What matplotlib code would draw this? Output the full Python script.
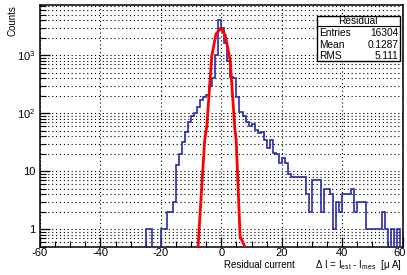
import numpy as np
import matplotlib.pyplot as plt
from matplotlib.patches import Rectangle
from matplotlib.ticker import (FixedLocator, FixedFormatter, LogLocator,
                               MultipleLocator, NullFormatter)

plt.rcParams['font.family'] = ['Liberation Sans', 'DejaVu Sans']
plt.rcParams['mathtext.fontset'] = 'custom'
plt.rcParams['mathtext.rm'] = 'Liberation Sans'
plt.rcParams['mathtext.it'] = 'Liberation Sans:italic'

# histogram: 1 unit bins from -60 to 60
bin_edges = np.arange(-60, 61, 1)
counts = [0] * 35 + [
    1, 1, 0, 0, 0, 1, 1, 2, 2, 3,            # -25 .. -16
    13, 20, 32, 48, 72, 90, 100, 130, 170, 190,   # -15 .. -6
    210, 290, 400, 1000, 4100, 2900, 1600, 800, 430, 400,  # -5 .. 4
    190, 105, 88, 72, 60, 65, 52, 45, 48, 35,   # 5 .. 14
    25, 35, 21, 20, 14, 17, 14, 9, 8, 8,       # 15 .. 24
    8, 8, 8, 4, 2, 7, 7, 7, 2, 5,              # 25 .. 34
    5, 4, 1, 3, 2, 4, 4, 4, 5, 2,              # 35 .. 44
    3, 3, 3, 1, 1, 1, 1, 1, 2, 1,              # 45 .. 54
    0, 1, 0, 1, 0,                             # 55 .. 59
]

# red fit curve
fit_x = [-7.7, -7.0, -5.5, -4.8, -3.2, -1.8, -0.2, 1.3, 2.9, 4.5, 4.9, 6.2, 7.8]
fit_y = [0.5, 2, 35, 60, 950, 2300, 2950, 2200, 830, 51, 35, 0.75, 0.5]

x_ticks = [-60, -40, -20, 0, 20, 40, 60]
x_labels = ['-60', '-40', '-20', '0', '20', '40', '60']

stat_names = ['Entries', 'Mean', 'RMS']
stat_values = ['16304', '0.1287', '5.111']

W, H = 407, 275
fig = plt.figure(figsize=(W / 100, H / 100), dpi=100)
ax = fig.add_axes([40 / W, 1 - 246.7 / H, 362.7 / W, 242 / H])

vals = np.array(counts, dtype=float)
vals = np.where(vals > 0, vals, 1e-3)
ax.stairs(vals, bin_edges, baseline=None, color='#2a2aa8', lw=1.2, zorder=3)
ax.plot(fit_x, fit_y, color='#ff0000', lw=2.0, zorder=4)

ax.set_yscale('log')
ax.set_xlim(-60, 60)
ax.set_ylim(0.5, 7450)

# last x label drawn by hand so it stays inside the figure
ax.xaxis.set_major_locator(FixedLocator(x_ticks))
ax.xaxis.set_major_formatter(FixedFormatter(x_labels[:-1] + ['']))
ax.xaxis.set_minor_locator(MultipleLocator(5))
ax.text(60.9, -0.004, x_labels[-1], transform=ax.get_xaxis_transform(),
        ha='right', va='top', fontsize=8)

ax.yaxis.set_major_locator(FixedLocator([1, 10, 100, 1000]))
ax.set_yticklabels(['1', '10', r'10$^{2}$', r'10$^{3}$'])
ax.yaxis.set_minor_locator(LogLocator(base=10, subs=np.arange(2, 10)))
ax.yaxis.set_minor_formatter(NullFormatter())

ax.tick_params(which='both', direction='in', top=False, right=False,
               labelsize=8, color='black')
ax.tick_params(which='major', length=7, width=0.9)
ax.tick_params(which='minor', length=4, width=0.8)
ax.tick_params(axis='x', which='major', pad=1)
ax.tick_params(axis='y', which='major', pad=3)

ax.grid(True, which='major', axis='x', color='black', ls=(0, (1, 2.5)), lw=0.8)
ax.grid(True, which='both', axis='y', color='black', ls=(0, (1, 2.5)), lw=0.8)
for s in ax.spines.values():
    s.set_linewidth(1.1)

fig.text(12 / W, 1 - 5 / H, 'Counts', rotation=90, ha='center', va='top', fontsize=7)
fig.text(295 / W, 1 - 268.5 / H, 'Residual current', ha='right', va='baseline', fontsize=7)
fig.text(402 / W, 1 - 268.5 / H,
         r'Δ I = I$_{\mathrm{est}}$ - I$_{\mathrm{mes}}$  [μ A]',
         ha='right', va='baseline', fontsize=7)

# stats box
bx0, bx1, by0, by1 = 316.7, 400, 15.7, 61
fig.patches.append(Rectangle((bx0 / W, 1 - by1 / H), (bx1 - bx0) / W, (by1 - by0) / H,
                             transform=fig.transFigure, facecolor='white',
                             edgecolor='black', lw=1.0, zorder=5))
fig.lines.append(plt.Line2D([bx0 / W, bx1 / W], [1 - 26 / H, 1 - 26 / H],
                            transform=fig.transFigure, color='black', lw=0.8, zorder=6))
fig.text((bx0 + bx1) / 2 / W, 1 - 20.7 / H, 'Residual', ha='center', va='center',
         fontsize=7.3, zorder=7)
for i, (n, v) in enumerate(zip(stat_names, stat_values)):
    yy = 1 - (33.3 + i * 11.3) / H
    fig.text(319.5 / W, yy, n, ha='left', va='center', fontsize=7.3, zorder=7)
    fig.text(398.5 / W, yy, v, ha='right', va='center', fontsize=7.3, zorder=7)

fig.savefig('out.png', dpi=100)
